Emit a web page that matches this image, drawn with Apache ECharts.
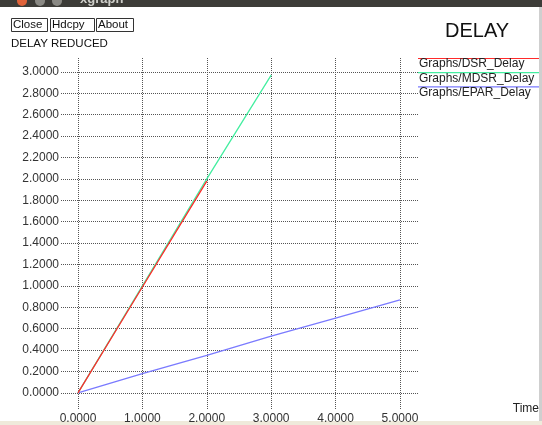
<!DOCTYPE html>
<html>
<head>
<meta charset="utf-8">
<script src="https://cdn.jsdelivr.net/npm/echarts@6/dist/echarts.min.js"></script>
<style>
  html, body { margin: 0; padding: 0; background: #fff; }
  #chart { width: 542px; height: 425px; }
</style>
</head>
<body>
<div id="chart"></div>
<script>
// data
const seriesNames = ['Graphs/DSR_Delay', 'Graphs/MDSR_Delay', 'Graphs/EPAR_Delay']
const seriesColors = ['#ff2a2a', '#44eea0', '#7a7aff']
const time = [0, 1, 2, 3, 4, 5]
const dsrDelay = [0, 0.99, 1.98]
const mdsrDelay = [0, 1.0, 2.0, 2.97]
const eparDelay = [0, 0.18, 0.35, 0.53, 0.7, 0.87]
const xTicks = [0, 1, 2, 3, 4, 5]
const yTicks = [0, 0.2, 0.4, 0.6, 0.8, 1.0, 1.2, 1.4, 1.6, 1.8, 2.0, 2.2, 2.4, 2.6, 2.8, 3.0]

const font = '"Liberation Sans", Arial, sans-serif'
const chart = echarts.init(document.getElementById('chart'))

const pairs = (ys) => ys.map((v, i) => [time[i], v])
const allData = [dsrDelay, mdsrDelay, eparDelay]

// xgraph style legend: coloured line above each name
const legendItems = []
seriesNames.forEach((name, i) => {
  legendItems.push({
    type: 'line',
    shape: { x1: 418, y1: 58.5 + i * 14.2, x2: 539, y2: 58.5 + i * 14.2 },
    style: { stroke: seriesColors[i], lineWidth: 1.2 }
  })
  legendItems.push({
    type: 'text',
    left: 419,
    top: 58 + i * 14.3,
    style: { text: name, fill: '#222', font: '12px ' + font }
  })
})

// window chrome: title bar + buttons
const buttons = [['Close', 11, 36], ['Hdcpy', 50, 44], ['About', 96, 37]]
const chrome = [
  { type: 'rect', shape: { x: 0, y: 0, width: 542, height: 7 }, style: { fill: '#3d3c38' } },
  { type: 'circle', shape: { cx: 22, cy: 1, r: 5 }, style: { fill: '#e0633a' } },
  { type: 'circle', shape: { cx: 40, cy: 1, r: 5 }, style: { fill: '#8a8984' } },
  { type: 'circle', shape: { cx: 57, cy: 1, r: 5 }, style: { fill: '#8a8984' } },
  { type: 'text', left: 80, top: -7, style: { text: 'xgraph', fill: '#cfcfca', font: 'bold 13px ' + font } },
  { type: 'rect', shape: { x: 0, y: 421, width: 542, height: 4 }, style: { fill: '#efeadb' } },
  { type: 'rect', shape: { x: 539, y: 7, width: 3, height: 414 }, style: { fill: '#cfcfcf' } }
]
buttons.forEach(([t, x, w]) => {
  chrome.push({
    type: 'rect',
    shape: { x: x + 0.5, y: 18.5, width: w, height: 13 },
    style: { fill: '#fff', stroke: '#333', lineWidth: 1 }
  })
  chrome.push({
    type: 'text',
    left: x + 2,
    top: 19,
    style: { text: t, fill: '#111', font: '11.5px ' + font }
  })
})
chrome.push({ type: 'text', left: 11, top: 38, style: { text: 'DELAY REDUCED', fill: '#111', font: '11.5px ' + font } })
chrome.push({ type: 'text', left: 445, top: 21, style: { text: 'DELAY', fill: '#111', font: '20px ' + font } })
chrome.push({ type: 'text', right: 3, top: 403, style: { text: 'Time', fill: '#222', font: '12px ' + font } })

const option = {
  animation: false,
  backgroundColor: '#fff',
  grid: { left: 61, right: 124, top: 58, bottom: 16 },
  xAxis: {
    type: 'value',
    min: -0.264,
    max: 5.28,
    axisLine: { show: false },
    axisTick: { show: false, customValues: xTicks },
    axisLabel: {
      customValues: xTicks,
      margin: 4,
      color: '#333',
      fontFamily: font,
      fontSize: 12,
      formatter: v => v.toFixed(4)
    },
    splitLine: { show: true, lineStyle: { color: '#555', type: [1, 1], width: 1 } }
  },
  yAxis: {
    type: 'value',
    min: -0.15,
    max: 3.13,
    axisLine: { show: false },
    axisTick: { show: false, customValues: yTicks },
    axisLabel: {
      customValues: yTicks,
      margin: 2,
      color: '#333',
      fontFamily: font,
      fontSize: 12,
      formatter: v => v.toFixed(4)
    },
    splitLine: { show: true, lineStyle: { color: '#555', type: [1, 1], width: 1 } }
  },
  series: allData.map((d, i) => ({
    name: seriesNames[i],
    type: 'line',
    data: pairs(d),
    showSymbol: false,
    lineStyle: { color: seriesColors[i], width: 1.3 },
    z: 3 - i
  })),
  graphic: chrome.concat(legendItems)
}
chart.setOption(option)
</script>
</body>
</html>
